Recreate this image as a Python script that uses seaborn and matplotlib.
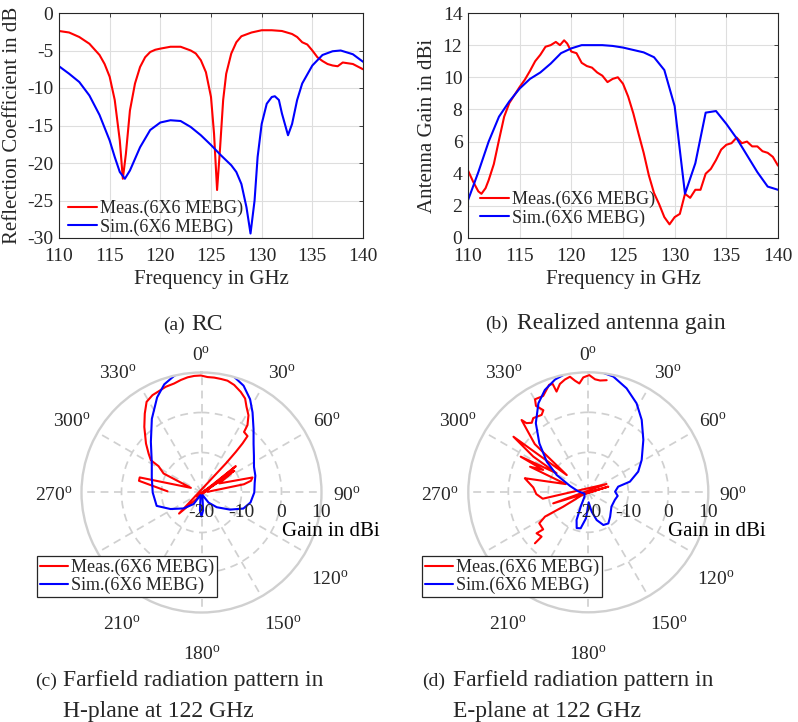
import numpy as np
import pandas as pd
import matplotlib
matplotlib.use("Agg")
import matplotlib.pyplot as plt
import seaborn as sns

# ---------------- data ----------------
series_labels = ["Meas.(6X6 MEBG)", "Sim.(6X6 MEBG)"]
series_colors = ["#ff0000", "#0000ff"]

# (a) reflection coefficient, dB
rc_meas_freq = [110, 111, 112, 113, 114, 114.5, 115, 115.5, 116, 116.3, 116.6, 117, 117.5,
                118, 118.5, 119, 119.5, 120, 121, 122, 123, 123.5, 124, 124.5, 125, 125.3,
                125.6, 125.9, 126.2, 126.5, 127, 127.5, 128, 129, 130, 131, 132, 133, 133.5,
                134, 134.5, 135, 135.5, 136, 136.5, 137, 137.5, 138, 139, 140]
rc_meas_db = [-2.4, -2.6, -3.2, -4.1, -5.6, -6.8, -8.5, -11.6, -17.0, -22.1, -18.8, -13.0, -9.4,
              -7.2, -5.9, -5.2, -4.9, -4.75, -4.5, -4.5, -5.0, -5.4, -6.3, -7.9, -11.2, -16.1,
              -23.6, -17.9, -11.6, -8.1, -5.4, -3.9, -3.1, -2.6, -2.3, -2.3, -2.4, -2.8, -3.2,
              -3.9, -4.2, -5.0, -5.9, -6.4, -6.8, -7.0, -7.1, -6.6, -6.8, -7.5]
rc_sim_freq = [110, 111, 112, 113, 114, 115, 115.5, 116, 116.5, 117, 118, 119, 120, 121, 122,
               123, 124, 125, 126, 127, 127.5, 128, 128.5, 128.9, 129.3, 129.6, 130, 130.5,
               131, 131.3, 131.7, 132, 132.6, 133, 133.5, 134, 135, 136, 137, 137.8, 139, 140]
rc_sim_db = [-7.1, -8.1, -9.2, -11.0, -13.6, -17.0, -19.2, -21.2, -22.1, -21.0, -17.9, -15.6,
             -14.6, -14.3, -14.4, -15.2, -16.3, -17.6, -19.0, -20.3, -21.2, -22.8, -25.9, -29.4,
             -25.0, -19.2, -14.8, -12.1, -11.2, -11.1, -11.6, -13.4, -16.3, -14.8, -11.6, -9.4,
             -7.0, -5.6, -5.1, -5.0, -5.5, -6.5]

# (b) realized gain, dBi
gain_meas_freq = [110, 110.5, 111, 111.3, 111.7, 112, 112.5, 113, 113.5, 114, 114.5, 115, 115.5,
                  116, 116.5, 117, 117.5, 118, 118.5, 118.9, 119.3, 119.6, 120, 120.5, 121,
                  121.5, 122, 122.5, 123, 123.5, 124, 124.5, 125, 125.5, 126, 126.5, 127, 127.5,
                  128, 128.5, 129, 129.5, 130, 130.5, 131, 131.5, 132, 132.5, 133, 133.5, 134,
                  134.5, 135, 135.5, 136, 136.5, 137, 137.5, 138, 138.5, 139, 139.5, 140]
gain_meas_dbi = [4.2, 3.5, 2.9, 2.75, 3.1, 3.6, 4.6, 6.1, 7.55, 8.4, 8.9, 9.4, 9.85,
                 10.4, 11.0, 11.4, 11.9, 12.0, 12.2, 12.0, 12.3, 12.1, 11.6, 11.5, 10.9,
                 10.7, 10.6, 10.3, 10.1, 9.7, 9.9, 10.0, 9.6, 8.8, 7.75, 6.5, 5.3, 3.9,
                 2.8, 2.1, 1.3, 0.85, 1.3, 1.5, 2.75, 2.5, 3.0, 3.0, 4.0, 4.3, 4.85,
                 5.5, 5.8, 5.9, 6.25, 5.9, 6.0, 5.7, 5.7, 5.4, 5.3, 5.05, 4.5]
gain_sim_freq = [110, 111, 112, 113, 114, 115, 116, 117, 118, 119, 120, 121, 122, 123, 124, 125,
                 126, 127, 128, 129, 130, 131, 132, 133, 134, 135, 136, 137, 138, 139, 140]
gain_sim_dbi = [2.35, 4.1, 6.0, 7.55, 8.5, 9.3, 9.9, 10.3, 10.85, 11.5, 11.8, 12.0, 12.0, 12.0,
                11.95, 11.85, 11.7, 11.55, 11.25, 10.45, 8.2, 2.75, 4.65, 7.8, 7.9, 7.1, 6.2,
                5.15, 4.1, 3.2, 3.0]

# (c) H-plane pattern at 122 GHz: angle in degrees (clockwise from broadside), gain in dBi
h_meas_deg = [272, 280.6, 283.7, 293.6, 296.6, 301.5, 302.5, 306.3, 311.4, 318.9, 324.3, 328.8,
              333.3, 337.4, 341.3, 345.9, 349.6, 353.1, 356.4, 359.7, 363.0, 366.3, 369.7,
              373.1, 376.9, 381.3, 384.9, 387.7, 391.3, 394.3, 395.1, 399.2, 399.9, 400.2,
              400.0, 226.8, 52.5, 225, 56.4, 230, 57.1, 63, 73.6, 76.7, 79, 83.7]
h_meas_dbi = [-11.5, -4.1, -4.1, -17.1, -9.4, -7.4, -5.0, -3.6, -1.5, 1.75, 4.3, 6.5,
              7.25, 7.5, 7.9, 8.1, 8.6, 9.0, 9.2, 9.25, 8.9, 8.9, 8.8,
              8.7, 8.1, 7.0, 5.9, 4.2, 2.6, 0.4, -1.5, -1.8, -4.0, -6.7,
              -10.5, -12.3, -9.2, -18.5, -10.2, -19.0, -11.25, -15.0, -6.7, -7.3, -9.2, -18.5]
h_sim_deg = [0, 7, 15, 21.5, 27.5, 32.5, 39.4, 47, 55, 64, 72.7, 80, 90, 101.5, 111, 121, 134,
             145, 158, 170, 175, 180, 185, 190, 202, 214.4, 228.4, 242, 253.4, 270, 287, 301,
             315, 326, 335, 341, 347, 353, 360]
h_sim_dbi = [11.0, 10.9, 10.25, 8.7, 6.3, 3.75, 0.5, -2.2, -4.0, -5.4, -5.9, -6.5, -6.8, -7.5,
             -8.8, -11.7, -14.7, -16.9, -19.3, -18.5, -15.5, -14.0, -15.5, -18.5, -19.3, -16.5,
             -14.0, -11.2, -8.3, -7.8, -7.0, -5.5, -2.1, 2.2, 6.25, 8.6, 10.0, 10.8, 11.0]

# (d) E-plane pattern at 122 GHz
e_meas_deg = [226.3, 226.5, 231.6, 230.6, 237.7, 240.7, 240.2, 248, 74.2, 252.5, 65.6, 262,
              268, 275, 281, 282.5, 290, 293.7, 296.4, 297.8, 301, 303, 306.6, 308.7, 312,
              317.3, 318.2, 320.9, 323.4, 328.9, 331.3, 328.8, 330.2, 334.9, 340, 341.8,
              342.5, 345.3, 348.3, 351, 353.2, 355.3, 357.5, 360.5, 363.4, 366, 369.3]
e_meas_dbi = [-1.55, -3.9, -3.5, -5.4, -5.5, -7.6, -12.8, -18.7, -14.8, -10.8, -15.0, -8.5,
              -7.0, -6.2, -4.3, -3.75, -14.0, -4.1, -7.4, -0.9, -10.75, -3.6, 3.3, -13.1, -2.0,
              4.6, 3.2, 2.4, 3.1, 2.6, 3.4, 5.25, 6.8, 6.6, 8.6, 8.5,
              6.4, 8.0, 8.8, 9.25, 8.1, 7.3, 8.75, 9.3, 8.3, 8.1, 8.4]
e_sim_deg = [0, 5.5, 12.2, 20.2, 28.5, 36.4, 46.4, 58.8, 67.5, 75.6, 79.3, 88.6, 97, 106, 121.6,
             138.3, 147.2, 155.3, 163.2, 170.2, 178, 185, 192, 198, 203, 208, 220, 250, 275,
             289, 298.7, 306.4, 315, 322.8, 330.7, 337, 343.6, 349.7, 355.3, 360]
e_sim_dbi = [10.7, 10.3, 9.6, 7.7, 5.3, 2.5, -1.0, -4.4, -6.5, -9.25, -12.4, -13.3, -12.6, -13.1,
             -13.2, -11.8, -10.75, -11.0, -12.75, -15.1, -17.5, -13.5, -10.8, -10.6, -12.5, -16.0,
             -18.5, -19.0, -17.5, -15.2, -11.0, -7.1, -2.7, 1.7, 5.5, 7.8, 9.4, 10.25, 10.6, 10.7]

freq_ticks = [110, 115, 120, 125, 130, 135, 140]
rc_ticks = [-30, -25, -20, -15, -10, -5, 0]
gain_ticks = [0, 2, 4, 6, 8, 10, 12, 14]
angle_ticks = [0, 30, 60, 90, 120, 150, 180, 210, 240, 270, 300, 330]
angle_labels = [0, 30, 60, 90, 120, 150, 180, 210, 270, 300, 330]
polar_gain_ticks = [-20, -10, 0, 10]

# ---------------- style ----------------
sns.set_theme(style="white")
plt.rcParams["font.family"] = ["Liberation Serif", "DejaVu Serif"]
plt.rcParams["mathtext.fontset"] = "custom"
plt.rcParams["mathtext.rm"] = "Liberation Serif"
plt.rcParams["axes.unicode_minus"] = False
TXT = "#262626"
GRID = "#dedede"
PGRID = "#d0d0d0"
TICK_FS = 14
LAB_FS = 15
LEG_FS = 13
CAP_FS = 17

W, H = 798, 722
fig = plt.figure(figsize=(W / 100, H / 100), dpi=100)
fig.patch.set_facecolor("white")
PT = 72 / 100  # points per pixel


def fx(px):
    return px / W


def fy(py):
    return 1 - py / H


def long_frame(pairs):
    rows = []
    for label, xs, ys in pairs:
        for i, (x, y) in enumerate(zip(xs, ys)):
            rows.append({"x": x, "y": y, "series": label, "order": i})
    return pd.DataFrame(rows)


palette = dict(zip(series_labels, series_colors))


def cartesian_panel(rect, df, ylim, yticks, ylabel, leg_xy):
    ax = fig.add_axes(rect)
    sns.lineplot(data=df, x="x", y="y", hue="series", palette=palette, sort=False,
                 estimator=None, lw=1.5, ax=ax, legend=False)
    ax.set_xlim(110, 140)
    ax.set_ylim(*ylim)
    ax.set_xticks(freq_ticks)
    ax.set_yticks(yticks)
    ax.grid(True, color=GRID, lw=0.8)
    ax.set_axisbelow(True)
    for s in ax.spines.values():
        s.set_color(TXT)
        s.set_linewidth(0.8)
    ax.tick_params(direction="in", length=3, width=0.6, colors=TXT, labelsize=TICK_FS,
                   top=True, right=True)
    ax.tick_params(axis="x", pad=7)
    ax.tick_params(axis="y", pad=4)
    ax.set_xlabel("Frequency in GHz", fontsize=LAB_FS, color=TXT, labelpad=4)
    ax.set_ylabel(ylabel, fontsize=LAB_FS, color=TXT, labelpad=4)
    leg = ax.legend(ax.get_lines()[:2], series_labels, loc="upper left",
                    bbox_to_anchor=(fx(leg_xy[0]), fy(leg_xy[1])),
                    bbox_transform=fig.transFigure, frameon=False, fontsize=LEG_FS,
                    borderaxespad=0, borderpad=0, handlelength=1.6, handletextpad=0.15,
                    labelspacing=0.05)
    for t in leg.get_texts():
        t.set_color(TXT)
    return ax


# (a)
df_a = long_frame([(series_labels[0], rc_meas_freq, rc_meas_db),
                   (series_labels[1], rc_sim_freq, rc_sim_db)])
cartesian_panel([fx(59), fy(238), fx(363 - 59), (238 - 13) / H], df_a, (-30, 0), rc_ticks,
                "Reflection Coefficient in dB", (68, 200))

# (b)
df_b = long_frame([(series_labels[0], gain_meas_freq, gain_meas_dbi),
                   (series_labels[1], gain_sim_freq, gain_sim_dbi)])
cartesian_panel([fx(468), fy(238), fx(778 - 468), (238 - 13) / H], df_b, (0, 14), gain_ticks,
                "Antenna Gain in dBi", (480, 191))

# pixel offsets of the rim labels from the plot centre (x right, y up)
rim_label_offset = {0: (0, 137), 30: (80, 119), 60: (125, 71), 90: (145, -3),
                    120: (128, -87), 150: (81, -132), 180: (0, -162), 210: (-80, -132),
                    270: (-148, -3), 300: (-130, 71), 330: (-84, 119)}


def polar_panel(cx, cy, meas_deg, meas_dbi, sim_deg, sim_dbi, leg_left):
    R = 120
    ax = fig.add_axes([fx(cx - R), fy(cy + R), fx(2 * R), 2 * R / H], projection="polar")
    ax.set_theta_zero_location("N")
    ax.set_theta_direction(-1)
    df = long_frame([(series_labels[0], np.deg2rad(meas_deg), meas_dbi),
                     (series_labels[1], np.deg2rad(sim_deg), sim_dbi)])
    sns.lineplot(data=df, x="x", y="y", hue="series", palette=palette, sort=False,
                 estimator=None, lw=1.5, ax=ax, legend=False)
    ax.set_ylim(-20, 10)
    ax.set_xlabel("")
    ax.set_ylabel("")
    ax.set_xticks(np.deg2rad(angle_ticks))
    ax.set_xticklabels([])
    ax.set_yticks([-10, 0])
    ax.set_yticklabels([])
    ax.grid(True, color=PGRID, lw=1.25, ls=(0, (4.5, 3.2)))
    ax.spines["polar"].set_color(PGRID)
    ax.spines["polar"].set_linewidth(1.7)
    ax.tick_params(length=0)
    ax.set_axisbelow(True)
    # angle labels around the rim
    for t in angle_labels:
        ox, oy = rim_label_offset[t]
        ax.annotate(f"{t}$^{{\\mathrm{{o}}}}$", xy=(0, -20), xytext=(ox * PT, oy * PT),
                    textcoords="offset points", ha="center", va="center",
                    fontsize=TICK_FS, color=TXT, annotation_clip=False, zorder=3)
    # gain labels along the 90 degree spoke
    for g in polar_gain_ticks:
        ax.annotate(str(g), xy=(np.pi / 2, g), xytext=(0, -20 * PT),
                    textcoords="offset points", ha="center", va="center",
                    fontsize=TICK_FS, color=TXT, annotation_clip=False, zorder=4)
    ax.annotate("Gain in dBi", xy=(np.pi / 2, -20), xytext=(129 * PT, -39 * PT),
                textcoords="offset points", ha="center", va="center",
                fontsize=LAB_FS, color="black", annotation_clip=False)
    leg = ax.legend(ax.get_lines()[:2], series_labels, loc="upper left",
                    bbox_to_anchor=(fx(leg_left), fy(556)), bbox_transform=fig.transFigure,
                    frameon=True, fancybox=False, edgecolor=TXT, framealpha=1,
                    fontsize=LEG_FS, borderaxespad=0, borderpad=0.15, handlelength=1.55,
                    handletextpad=0.2, labelspacing=0.05)
    leg.get_frame().set_linewidth(0.9)
    leg.set_zorder(10)
    for t in leg.get_texts():
        t.set_color(TXT)
    return ax


polar_panel(201.5, 492.5, h_meas_deg, h_meas_dbi, h_sim_deg, h_sim_dbi, 37)
polar_panel(588.3, 492.3, e_meas_deg, e_meas_dbi, e_sim_deg, e_sim_dbi, 422)


# sub-captions
def caption(x_tag, x_text, y_base, tag, text):
    fig.text(fx(x_tag), fy(y_base), tag, fontsize=14, color=TXT, ha="left", va="baseline")
    fig.text(fx(x_text), fy(y_base), text, fontsize=CAP_FS, color=TXT, ha="left",
             va="baseline")


caption(163, 191, 330, "(a)", "RC")
caption(485, 517, 329, "(b)", "Realized antenna gain")
caption(35, 63, 686, "(c)", "Farfield radiation pattern in")
fig.text(fx(63), fy(717), "H-plane at 122 GHz", fontsize=CAP_FS, color=TXT, ha="left",
         va="baseline")
caption(422, 453, 686, "(d)", "Farfield radiation pattern in")
fig.text(fx(453), fy(717), "E-plane at 122 GHz", fontsize=CAP_FS, color=TXT, ha="left",
         va="baseline")

fig.savefig("out.png", dpi=100, facecolor="white")
